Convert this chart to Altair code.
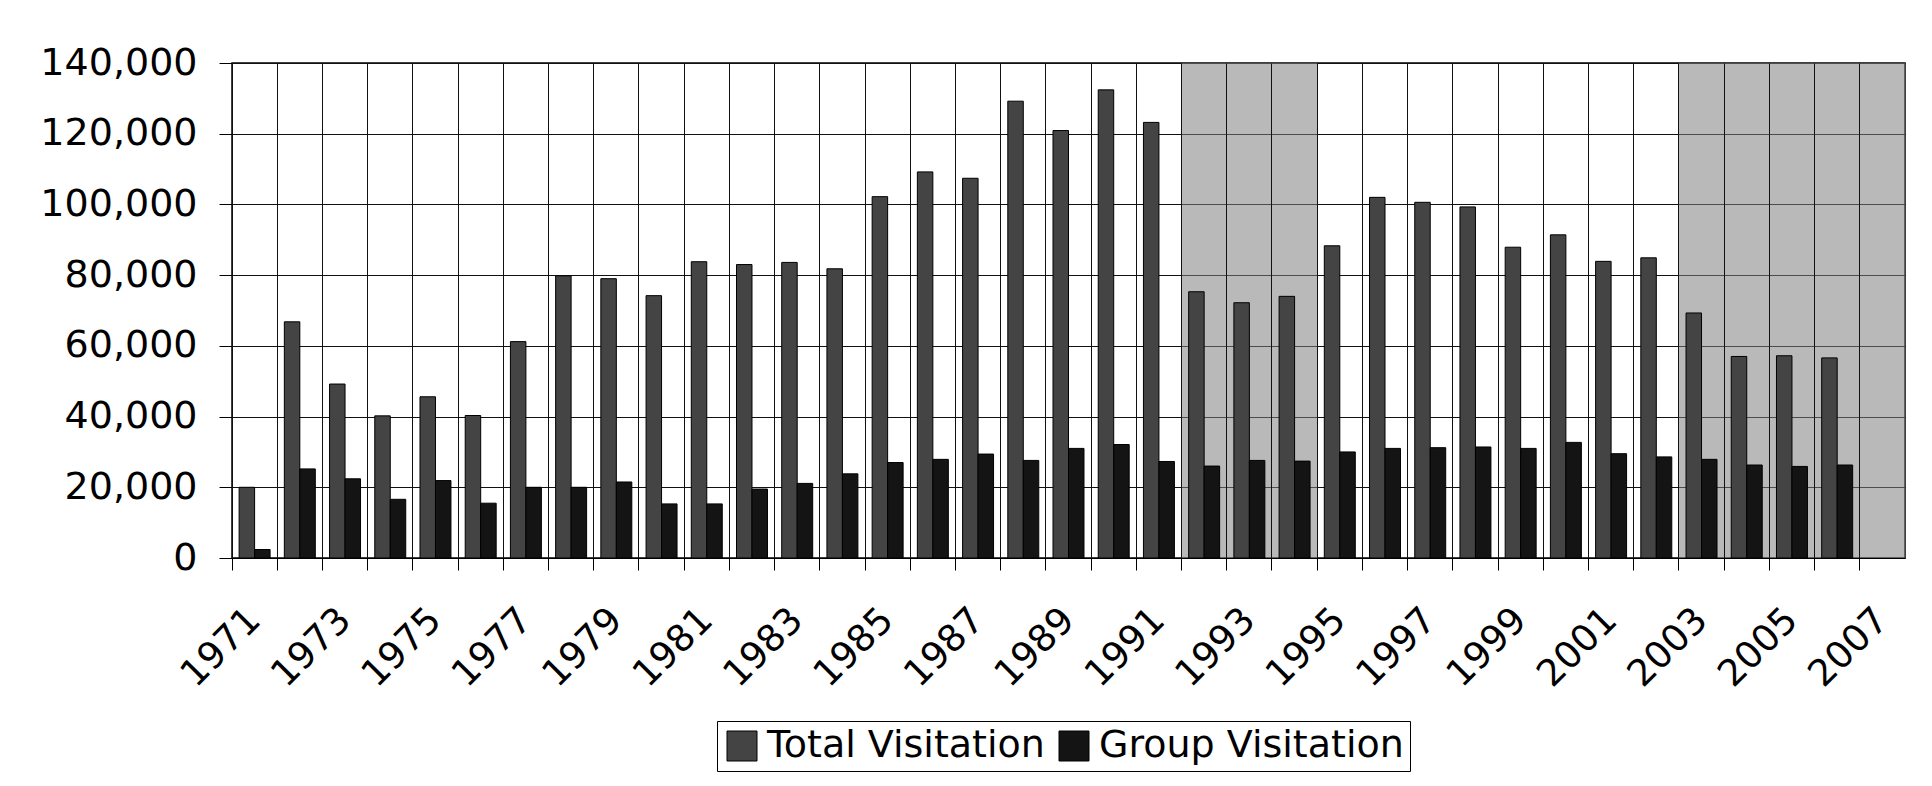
import altair as alt
import pandas as pd

# ---- data ----
years = [str(y) for y in range(1971, 2008)]          # category axis (2007 has no bars)
bar_years = [str(y) for y in range(1971, 2007)]
total_visitation = [20000, 66800, 49200, 40200, 45600, 40300, 61200, 79800, 79000, 74200,
                    83800, 83000, 83600, 81800, 102200, 109200, 107400, 129200, 120900, 132400,
                    123200, 75300, 72200, 74000, 88300, 102000, 100600, 99300, 87900, 91400,
                    83900, 84900, 69300, 57000, 57200, 56600]
group_visitation = [2400, 25200, 22400, 16600, 21900, 15500, 20000, 20000, 21500, 15300,
                    15300, 19500, 21100, 23800, 27000, 27900, 29400, 27600, 31000, 32100,
                    27300, 26000, 27600, 27400, 30000, 31000, 31200, 31400, 31000, 32700,
                    29500, 28600, 27900, 26300, 25900, 26300]
series_names = ["Total Visitation", "Group Visitation"]
series_colors = ["#444444", "#141414"]
y_ticks = [0, 20000, 40000, 60000, 80000, 100000, 120000, 140000]
shaded_years = ["1992", "1993", "1994", "2003", "2004", "2005", "2006", "2007"]

rows = []
for i, yr in enumerate(bar_years):
    rows.append({"year": yr, "series": series_names[0], "value": total_visitation[i]})
    rows.append({"year": yr, "series": series_names[1], "value": group_visitation[i]})
df = pd.DataFrame(rows)
shade_df = pd.DataFrame({"year": shaded_years})

FONT = "DejaVu Sans"

x_scale = alt.Scale(domain=years, paddingInner=0, paddingOuter=0)
x_axis = alt.Axis(
    values=years,
    labelExpr="parseInt(datum.value) % 2 == 1 ? datum.label : ''",
    bandPosition=0,
    labelAngle=-45,
    labelAlign="right",
    labelBaseline="middle",
    labelFontSize=37,
    labelPadding=44,
    labelOverlap=False,
    labelColor="black",
    tickSize=12,
    tickColor="black",
    domainColor="black",
    grid=True,
    gridColor="#111111",
    gridOpacity=1,
    title=None,
)
y_axis = alt.Axis(
    values=y_ticks,
    format=",.0f",
    labelFontSize=38,
    labelPadding=22,
    labelColor="black",
    tickSize=13,
    tickColor="black",
    domainColor="black",
    grid=True,
    gridColor="#111111",
    gridOpacity=1,
    title=None,
)

shade = alt.Chart(shade_df).mark_rect(color="#808080", opacity=0.55).encode(
    x=alt.X("year:N", scale=x_scale, axis=x_axis),
)

bars = alt.Chart(df).mark_bar(stroke="black", strokeWidth=1).encode(
    x=alt.X("year:N", scale=x_scale, axis=x_axis),
    xOffset=alt.XOffset("series:N", sort=series_names,
                        scale=alt.Scale(domain=series_names, paddingInner=0, paddingOuter=0.46)),
    y=alt.Y("value:Q", scale=alt.Scale(domain=[0, 140000], nice=False), axis=y_axis),
    color=alt.Color(
        "series:N",
        sort=series_names,
        scale=alt.Scale(domain=series_names, range=series_colors),
        legend=alt.Legend(
            orient="none",
            legendX=485,
            legendY=658,
            direction="horizontal",
            title=None,
            symbolType="square",
            symbolSize=900,
            symbolStrokeColor="black",
            symbolStrokeWidth=1,
            labelFontSize=38,
            labelLimit=2000,
            labelColor="black",
            labelOffset=6,
            columnPadding=10,
            strokeColor="black",
            padding=6,
            fillColor="white",
        ),
    ),
)

chart = alt.layer(shade, bars).properties(
    width=1673,
    height=495,
    autosize="none",
    padding={"left": 224, "top": 55, "right": 19, "bottom": 214},
).configure(
    font=FONT,
).configure_view(
    stroke="black",
    strokeWidth=1.5,
).configure_axis(
    labelFont=FONT,
).configure_legend(
    labelFont=FONT,
)

chart.save("out.html", embed_options={"renderer": "svg", "actions": False})
